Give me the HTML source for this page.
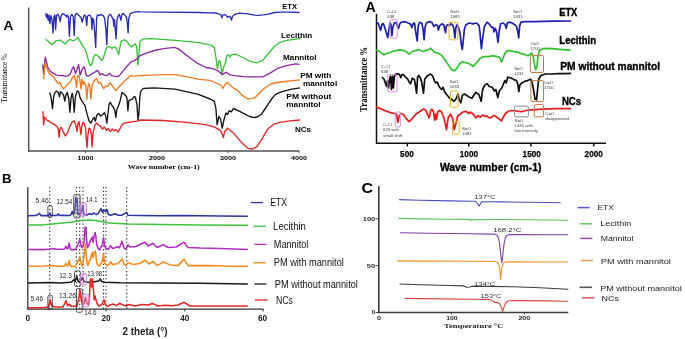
<!DOCTYPE html>
<html><head><meta charset="utf-8"><style>
html,body{margin:0;padding:0;background:#fff;}
body{width:685px;height:339px;overflow:hidden;font-family:"Liberation Sans",sans-serif;}
svg{display:block;filter:blur(0.35px);}
</style></head><body>
<svg width="685" height="339" viewBox="0 0 685 339">
<rect width="685" height="339" fill="#fff"/>
<line x1="28.7" y1="7.5" x2="28.7" y2="151.8" stroke="#5a5a5a" stroke-width="1.6"/>
<line x1="27.9" y1="151" x2="299.2" y2="151" stroke="#505050" stroke-width="1.6"/>
<polyline points="45.6,13.2 46.6,17.6 47.3,14.3 48.2,20.3 49.0,15.0 49.9,23.6 50.9,15.6 52.0,20.0 53.0,32.9 53.9,17.0 54.9,15.0 55.6,29.5 56.6,15.6 57.9,14.3 59.2,17.0 60.2,21.6 61.2,15.6 62.5,13.6 63.9,14.3 65.9,15.6 66.5,17.0 67.2,15.0 68.5,17.6 69.4,36.2 70.5,16.3 71.8,14.3 73.2,16.3 74.2,35.5 75.1,15.0 76.5,13.2 78.5,15.0 79.8,16.3 81.1,17.6 82.2,22.2 83.1,18.3 84.4,15.0 85.8,16.3 86.7,25.6 87.5,16.3 89.1,15.0 90.4,15.6 91.3,18.3 92.0,29.5 92.6,18.3 93.6,19.6 94.6,31.5 95.7,47.4 96.6,18.3 97.5,15.0 99.3,15.6 100.6,14.5 101.9,15.0 103.3,15.6 104.6,18.3 105.9,28.9 106.8,44.8 107.9,18.3 109.2,15.0 110.5,14.3 111.9,16.9 113.2,19.6 113.9,26.2 114.5,19.6 115.2,28.9 116.1,38.8 116.9,20.9 117.8,16.9 119.2,14.3 120.1,16.9 120.9,20.3 121.8,15.0 123.1,13.2 125.1,15.6 126.5,16.9 127.5,24.9 128.1,32.9 128.8,18.3 130.4,13.6 133.1,12.3 138.0,11.6 140.0,11.8 160.0,12.2 200.0,12.5 208.8,12.8 215.8,13.0 218.4,13.8 220.6,14.3 221.9,17.8 222.8,15.1 224.5,14.7 226.0,15.3 227.6,17.3 229.0,16.3 230.2,16.8 231.5,20.0 232.4,16.5 235.0,14.3 239.4,13.2 248.2,13.8 254.3,15.1 258.8,15.3 263.0,14.9 267.5,14.3 274.5,12.5 280.7,12.1 289.4,12.1 299.5,12.5" fill="none" stroke="#2a2cb0" stroke-width="1.35" stroke-linejoin="round" />
<polyline points="45.6,39.2 48.0,41.0 51.9,44.8 55.9,40.8 59.9,40.2 62.5,41.5 65.2,44.1 67.9,40.8 69.8,39.5 71.8,40.2 73.8,40.8 76.5,39.0 77.8,37.5 79.8,40.8 81.8,44.1 83.6,47.4 85.2,49.4 87.2,55.6 88.8,61.8 90.3,65.4 91.9,63.9 93.4,57.7 95.0,54.6 97.0,55.1 99.1,57.2 101.7,60.3 103.2,58.7 104.8,53.1 106.3,47.9 107.9,46.4 109.9,46.9 112.0,48.4 113.5,46.9 115.6,47.4 117.2,50.5 118.7,54.6 119.7,48.4 121.3,41.2 123.3,40.0 125.4,40.2 127.5,42.2 129.5,45.3 131.6,46.9 133.7,44.8 135.2,43.8 136.6,46.4 137.3,55.6 138.0,64.9 138.8,55.6 139.8,44.3 140.0,41.5 142.4,39.2 151.8,38.7 175.4,40.3 199.0,42.7 210.8,45.1 214.3,47.4 216.0,58.0 217.4,68.7 219.1,60.4 220.3,62.0 222.1,74.6 223.7,67.0 225.4,62.8 226.8,55.7 228.5,54.5 229.7,57.0 232.0,54.5 236.8,54.5 243.8,58.0 250.9,61.6 256.8,62.8 262.7,60.4 268.6,53.3 274.5,46.2 279.2,42.7 286.3,40.3 300.0,38.7" fill="none" stroke="#3cc03c" stroke-width="1.35" stroke-linejoin="round" />
<polyline points="42.7,64.5 43.7,74.1 45.2,57.2 46.6,62.3 48.1,68.2 50.3,71.2 53.3,73.4 56.2,74.9 59.2,75.6 62.1,75.3 65.1,76.3 68.0,75.6 70.2,74.1 72.2,69.0 73.6,66.7 75.4,73.4 76.9,69.7 78.6,64.5 80.1,74.9 82.0,69.7 84.0,66.7 85.0,69.1 86.3,75.6 88.2,76.2 90.2,74.9 92.1,73.6 94.7,72.3 97.3,70.4 98.6,71.7 99.9,74.9 101.9,73.6 103.8,74.9 105.8,75.6 107.7,74.9 109.7,73.2 111.6,75.6 114.2,76.2 117.5,76.6 119.4,75.6 122.0,72.3 124.6,69.1 127.9,65.2 131.1,61.9 134.4,60.6 138.8,57.2 140.0,55.7 147.0,52.8 154.2,50.5 163.6,48.6 174.2,47.4 178.0,48.6 187.2,55.7 196.6,62.8 206.1,67.5 213.2,68.7 218.0,71.0 222.6,74.6 226.1,72.2 229.6,74.6 234.4,75.7 246.2,76.9 262.7,76.9 269.8,73.4 276.9,68.7 286.3,65.6 295.8,63.9 299.5,64.3" fill="none" stroke="#8a2aa0" stroke-width="1.35" stroke-linejoin="round" />
<polyline points="42.7,77.8 43.7,78.5 45.2,63.1 46.6,66.8 48.1,71.2 49.6,73.4 51.8,75.6 54.0,77.8 56.2,80.8 58.4,83.7 59.9,82.2 61.4,85.9 63.6,88.9 65.8,86.6 68.0,83.7 70.2,82.2 72.4,77.8 74.2,75.6 75.7,81.5 76.6,87.4 77.6,76.3 79.1,75.6 80.1,81.5 81.0,88.9 82.0,79.3 83.1,84.4 84.2,81.5 85.7,85.9 86.9,99.2 87.9,86.0 88.9,83.4 89.9,87.3 90.8,99.0 92.0,86.0 94.1,80.8 96.7,78.2 98.6,83.4 100.1,82.1 101.9,85.3 103.8,88.6 105.8,86.0 107.7,86.6 109.7,82.7 111.6,84.7 113.6,87.9 115.9,90.5 118.1,87.9 120.7,85.3 124.0,81.4 127.2,78.8 130.5,75.6 134.4,76.2 139.5,75.6 140.0,75.7 163.6,74.6 175.4,74.6 187.2,76.9 199.0,79.3 210.1,80.3 215.0,82.5 220.6,85.0 222.9,88.5 224.5,85.5 226.1,82.8 227.6,82.7 230.5,85.5 234.4,88.7 238.1,90.8 241.5,94.6 247.5,99.0 251.0,98.6 254.5,97.9 258.0,94.5 261.5,90.8 265.5,87.5 270.8,84.0 277.0,82.5 284.8,81.5 300.0,79.9" fill="none" stroke="#ee7a22" stroke-width="1.35" stroke-linejoin="round" />
<polyline points="49.6,92.4 51.0,97.0 52.5,108.6 53.6,97.0 54.7,93.1 56.5,90.9 58.3,92.4 59.5,96.8 60.4,91.7 62.1,93.1 63.6,95.4 64.8,101.2 65.8,95.4 67.3,92.4 68.8,99.0 69.9,112.3 71.0,98.3 72.2,93.1 73.2,99.0 74.2,112.3 75.4,96.8 77.2,90.9 78.6,91.6 80.1,97.6 82.0,101.2 83.5,103.4 85.0,105.6 86.9,113.4 88.9,120.5 90.8,123.1 92.8,119.2 94.1,117.3 95.4,121.2 96.7,115.3 98.6,113.4 100.6,116.0 102.5,114.7 104.5,112.7 105.8,116.0 106.8,123.1 107.7,116.0 109.0,104.3 110.3,102.3 111.6,104.9 113.6,107.5 114.9,110.8 115.9,117.3 116.8,109.5 118.1,106.9 120.1,101.0 122.0,92.6 124.0,93.9 126.0,95.9 126.9,97.8 127.9,110.8 128.9,100.4 130.5,99.8 132.4,99.1 134.1,96.5 135.4,97.2 136.9,104.3 138.0,119.9 138.9,113.4 139.8,97.8 139.8,97.8 140.6,92.0 142.0,89.5 143.5,88.5 154.0,87.8 175.0,89.2 198.4,94.4 210.1,99.0 214.3,101.4 215.9,108.4 217.1,124.7 219.0,116.5 220.6,119.0 222.2,128.2 224.0,119.5 226.0,113.0 227.6,114.5 229.2,110.7 231.4,111.8 233.4,108.4 238.1,110.7 245.1,114.2 249.5,116.5 254.5,117.7 258.0,116.5 261.5,114.2 265.0,109.0 268.5,103.7 272.0,98.5 275.5,94.4 280.0,92.3 284.8,90.8 292.0,89.2 300.0,87.8" fill="none" stroke="#141414" stroke-width="1.35" stroke-linejoin="round" />
<polyline points="42.9,111.2 43.6,124.9 44.5,117.1 45.8,118.7 47.1,120.3 49.0,121.0 51.0,122.9 52.9,123.6 54.9,124.9 56.9,126.2 58.2,128.8 59.2,137.2 60.1,128.1 61.4,127.5 63.4,132.0 65.3,135.9 67.3,133.3 69.9,126.2 72.5,121.6 74.4,121.0 75.7,124.9 77.0,131.4 77.9,123.6 79.0,121.6 80.0,127.5 80.9,134.6 81.9,126.2 82.9,122.3 84.2,123.6 85.5,127.5 87.0,147.6 88.1,133.5 89.1,128.1 90.1,128.8 91.3,133.5 92.0,147.0 93.0,133.5 94.5,126.2 95.5,124.4 96.7,123.1 98.6,125.0 100.6,126.4 102.5,129.0 104.5,127.1 106.4,130.3 108.4,128.4 110.3,131.6 112.2,129.0 114.2,130.9 116.1,129.6 118.1,132.2 120.1,128.4 122.0,125.1 124.0,123.1 127.9,122.5 131.8,121.8 137.0,121.2 140.0,120.0 163.4,120.5 186.7,122.4 205.4,124.7 214.7,127.1 220.6,130.6 223.4,137.6 224.6,131.7 227.6,128.2 233.4,132.9 240.4,141.1 244.0,144.8 247.5,148.1 252.1,149.2 256.8,146.9 261.5,139.9 265.0,133.5 268.5,128.2 274.0,124.2 280.2,122.4 290.0,120.8 300.0,120.0" fill="none" stroke="#e02424" stroke-width="1.35" stroke-linejoin="round" />
<text x="3.6" y="29.8" font-family="Liberation Sans, sans-serif" font-size="13.6" font-weight="bold" fill="#000" text-anchor="start" >A</text>
<line x1="85.5" y1="151" x2="85.5" y2="153" stroke="#505050" stroke-width="1"/>
<text x="77.5" y="160.2" font-family="Liberation Sans, sans-serif" font-size="6.2" font-weight="bold" fill="#000" text-anchor="start" textLength="16" lengthAdjust="spacingAndGlyphs" >1000</text>
<line x1="157" y1="151" x2="157" y2="153" stroke="#505050" stroke-width="1"/>
<text x="149" y="160.2" font-family="Liberation Sans, sans-serif" font-size="6.2" font-weight="bold" fill="#000" text-anchor="start" textLength="16" lengthAdjust="spacingAndGlyphs" >2000</text>
<line x1="228" y1="151" x2="228" y2="153" stroke="#505050" stroke-width="1"/>
<text x="220" y="160.2" font-family="Liberation Sans, sans-serif" font-size="6.2" font-weight="bold" fill="#000" text-anchor="start" textLength="16" lengthAdjust="spacingAndGlyphs" >3000</text>
<line x1="299" y1="151" x2="299" y2="153" stroke="#505050" stroke-width="1"/>
<text x="291" y="160.2" font-family="Liberation Sans, sans-serif" font-size="6.2" font-weight="bold" fill="#000" text-anchor="start" textLength="16" lengthAdjust="spacingAndGlyphs" >4000</text>
<text x="127.8" y="168.8" font-family="Liberation Serif, serif" font-size="6.6" font-weight="bold" fill="#000" text-anchor="start" textLength="72" lengthAdjust="spacingAndGlyphs" >Wave number (cm-1)</text>
<text x="0" y="0" font-family="Liberation Serif, serif" font-size="8.4" font-weight="normal" fill="#000" text-anchor="middle" textLength="48.5" lengthAdjust="spacingAndGlyphs" transform="translate(7.3,78.2) rotate(-90)">Transmittance %</text>
<text x="282.3" y="8.5" font-family="Liberation Sans, sans-serif" font-size="7.6" font-weight="bold" fill="#000" text-anchor="start" textLength="14.8" lengthAdjust="spacingAndGlyphs" >ETX</text>
<text x="281" y="38" font-family="Liberation Sans, sans-serif" font-size="7.6" font-weight="bold" fill="#000" text-anchor="start" textLength="31.2" lengthAdjust="spacingAndGlyphs" >Lecithin</text>
<text x="283.1" y="60" font-family="Liberation Sans, sans-serif" font-size="7.6" font-weight="bold" fill="#000" text-anchor="start" textLength="33.4" lengthAdjust="spacingAndGlyphs" >Mannitol</text>
<text x="300.2" y="78.2" font-family="Liberation Sans, sans-serif" font-size="7.6" font-weight="bold" fill="#000" text-anchor="start" textLength="31.2" lengthAdjust="spacingAndGlyphs" >PM with</text>
<text x="302.9" y="86" font-family="Liberation Sans, sans-serif" font-size="7.6" font-weight="bold" fill="#000" text-anchor="start" textLength="34.3" lengthAdjust="spacingAndGlyphs" >mannitol</text>
<text x="286.3" y="99.3" font-family="Liberation Sans, sans-serif" font-size="7.6" font-weight="bold" fill="#000" text-anchor="start" textLength="45.1" lengthAdjust="spacingAndGlyphs" >PM without</text>
<text x="286.3" y="106.7" font-family="Liberation Sans, sans-serif" font-size="7.6" font-weight="bold" fill="#000" text-anchor="start" textLength="34.3" lengthAdjust="spacingAndGlyphs" >mannitol</text>
<text x="295" y="131.5" font-family="Liberation Sans, sans-serif" font-size="7.6" font-weight="bold" fill="#000" text-anchor="start" textLength="16.1" lengthAdjust="spacingAndGlyphs" >NCs</text>
<line x1="376.5" y1="13.8" x2="376.5" y2="143.5" stroke="#111" stroke-width="1.5"/>
<line x1="376" y1="143.2" x2="606" y2="143.2" stroke="#111" stroke-width="1.5"/>
<line x1="407.3" y1="143.2" x2="407.3" y2="146.5" stroke="#111" stroke-width="1.5"/>
<line x1="468.8" y1="143.2" x2="468.8" y2="146.5" stroke="#111" stroke-width="1.5"/>
<line x1="531" y1="143.2" x2="531" y2="146.5" stroke="#111" stroke-width="1.5"/>
<line x1="593.7" y1="143.2" x2="593.7" y2="146.5" stroke="#111" stroke-width="1.5"/>
<polyline points="376.7,23.6 378.0,23.0 379.3,26.3 380.6,30.3 382.0,24.3 383.3,23.6 384.6,27.0 386.0,31.6 387.7,37.6 388.6,32.0 390.0,23.0 390.9,24.3 391.9,35.6 392.9,27.0 394.3,23.0 395.9,22.3 397.2,25.6 398.6,28.3 399.6,24.3 401.2,22.3 403.9,21.6 406.5,22.3 409.2,23.6 410.8,24.3 411.8,27.6 413.2,23.6 414.5,23.0 415.8,32.3 417.2,40.9 418.2,25.6 419.8,22.3 421.8,23.0 423.1,29.6 424.1,39.6 425.1,27.0 426.4,23.0 429.1,21.6 431.8,22.3 434.0,26.5 435.8,24.7 437.5,25.6 438.4,30.0 439.7,25.6 442.0,23.8 443.7,24.7 444.6,28.3 445.5,32.7 446.4,25.6 447.8,24.7 449.6,25.6 450.8,23.8 452.6,24.7 453.8,28.3 454.9,38.0 455.9,27.4 457.0,24.7 458.8,28.3 460.2,34.5 461.4,45.1 462.3,49.5 463.2,41.5 464.4,29.2 465.9,24.7 469.4,23.0 472.9,23.8 476.5,23.0 479.1,25.6 480.0,32.7 481.4,48.6 482.7,38.0 484.4,26.5 487.1,22.1 489.8,24.7 491.5,27.4 493.2,27.4 493.9,31.8 495.3,28.3 496.7,32.7 498.0,42.4 499.2,31.0 500.6,23.8 503.3,23.0 505.0,24.7 506.3,28.3 507.3,23.0 509.5,22.1 512.1,23.0 514.8,24.7 516.5,26.5 518.0,32.7 518.7,38.0 519.7,25.6 521.0,22.1 525.4,21.7 534.2,21.7 543.1,21.4 555.0,21.2 571.2,21.0" fill="none" stroke="#1c20ac" stroke-width="1.7" stroke-linejoin="round" />
<polyline points="376.0,50.2 378.7,50.8 381.3,52.8 384.0,54.8 386.6,53.5 390.6,52.2 394.6,50.8 399.9,49.8 403.9,50.6 406.5,51.9 409.2,54.2 411.2,52.4 413.2,51.1 415.8,50.6 418.5,49.5 421.1,50.8 423.8,51.5 426.4,50.2 429.1,49.5 430.7,48.2 432.4,50.2 434.4,52.2 437.5,53.0 441.1,54.8 444.6,59.2 448.2,64.6 451.7,69.9 454.4,70.8 457.0,68.1 459.7,63.7 462.3,61.9 465.9,62.8 469.4,63.7 472.9,66.3 476.5,62.8 480.0,58.4 483.6,56.6 488.9,56.6 492.4,55.7 497.1,56.6 499.7,57.5 501.5,61.9 502.7,59.2 505.0,53.1 507.7,50.4 513.0,51.3 518.3,52.2 521.9,53.9 525.4,54.8 528.1,55.7 531.6,53.1 533.4,57.5 534.6,64.6 535.7,69.9 536.9,66.3 538.1,55.7 539.6,50.4 543.1,48.6 550.0,48.3 560.0,49.3 570.8,50.3" fill="none" stroke="#30c030" stroke-width="1.7" stroke-linejoin="round" />
<polyline points="381.9,77.0 384.0,79.0 385.6,83.6 386.6,86.5 387.5,80.6 388.5,88.0 389.6,79.2 390.5,76.2 391.5,89.5 392.5,76.2 393.4,88.0 394.4,76.2 395.9,74.0 398.1,73.6 399.6,74.7 400.8,77.7 401.8,74.7 403.3,74.7 405.5,77.0 407.7,79.2 409.2,82.1 410.7,83.6 412.1,78.4 414.3,79.2 415.5,85.8 416.6,93.2 417.6,77.0 418.8,75.5 420.2,77.7 421.7,82.1 423.5,93.2 424.7,79.2 426.9,76.2 429.1,74.7 430.6,74.0 432.8,76.2 434.3,80.6 435.7,82.9 437.2,82.1 438.7,85.8 440.2,88.0 441.6,89.5 443.1,87.3 444.6,91.7 446.8,94.7 449.7,98.3 452.0,99.8 454.2,101.3 456.4,98.3 457.9,94.0 459.3,99.8 460.8,102.8 462.3,95.4 464.5,94.0 466.7,95.4 468.9,96.9 471.9,98.3 474.1,94.7 476.0,92.4 479.0,94.7 481.2,101.3 482.6,89.5 484.8,85.1 487.1,83.6 489.3,86.5 492.2,87.3 494.4,91.0 495.9,89.5 497.8,97.6 499.3,91.0 501.8,88.0 504.8,80.6 506.2,82.9 507.7,77.0 509.9,77.7 512.1,78.4 514.3,79.9 516.6,80.6 518.0,85.1 518.8,91.7 519.8,85.1 521.7,82.9 524.7,81.4 527.6,80.6 530.6,79.2 532.0,82.1 533.5,89.5 535.0,99.1 536.5,99.8 537.6,89.5 538.7,79.2 540.9,75.5 545.3,74.0 552.7,74.0 558.6,73.6 564.5,73.6 571.1,73.3" fill="none" stroke="#0e0e0e" stroke-width="1.7" stroke-linejoin="round" />
<polyline points="376.0,106.8 378.9,108.1 381.9,109.1 384.8,110.5 387.8,111.6 390.7,112.7 394.4,113.5 396.6,114.2 397.8,122.3 399.3,115.7 401.1,113.5 403.3,114.2 406.2,118.6 409.2,121.6 412.1,118.6 415.8,114.2 420.2,111.3 423.2,109.1 425.4,109.8 427.6,114.2 429.1,117.9 430.6,111.3 432.0,109.1 433.5,112.0 434.7,120.1 435.7,114.2 436.5,119.4 437.7,112.0 439.4,110.5 441.6,112.0 443.1,115.7 444.6,120.1 446.5,129.7 448.3,117.2 450.5,114.2 452.7,118.6 454.2,129.7 456.4,121.6 457.9,115.7 460.1,114.2 463.0,112.0 466.0,111.3 468.9,113.5 470.4,112.0 473.3,114.2 476.0,117.9 478.2,115.7 480.4,117.2 482.6,115.0 484.8,116.4 486.3,115.7 488.5,117.2 490.7,117.9 492.2,116.4 494.4,115.4 496.6,117.2 498.8,118.6 501.4,120.9 503.3,117.2 505.5,113.5 508.4,111.3 511.4,110.5 515.8,111.0 520.2,111.6 523.2,111.3 526.1,110.5 532.0,109.8 542.4,109.1 557.0,108.6 571.1,108.6" fill="none" stroke="#e41c1c" stroke-width="1.7" stroke-linejoin="round" />
<rect x="390" y="19.6" width="7.199999999999989" height="18.6" rx="1.2" fill="none" stroke="#dc8ee0" stroke-width="1.0"/>
<rect x="449" y="22.1" width="8.899999999999977" height="17.699999999999996" rx="1.2" fill="none" stroke="#f2b428" stroke-width="1.0"/>
<rect x="387.8" y="74.7" width="9.199999999999989" height="17.0" rx="1.2" fill="none" stroke="#dc8ee0" stroke-width="1.0"/>
<rect x="450.5" y="91" width="7.399999999999977" height="16.200000000000003" rx="1.2" fill="none" stroke="#f2b428" stroke-width="1.0"/>
<rect x="395.2" y="112" width="5.100000000000023" height="14.799999999999997" rx="1.2" fill="none" stroke="#dc8ee0" stroke-width="1.0"/>
<rect x="452.4" y="121.6" width="6.900000000000034" height="12.5" rx="1.2" fill="none" stroke="#f2b428" stroke-width="1.0"/>
<rect x="530.4" y="55.4" width="13.100000000000023" height="17.1" rx="1.2" fill="none" stroke="#c07840" stroke-width="1.0"/>
<rect x="530.9" y="80.6" width="12.700000000000045" height="21.0" rx="1.2" fill="none" stroke="#c07840" stroke-width="1.0"/>
<rect x="534.3" y="104.6" width="9.300000000000068" height="12.300000000000011" rx="1.2" fill="none" stroke="#c07840" stroke-width="1.0"/>
<rect x="514.6" y="106.1" width="13.799999999999955" height="10.800000000000011" rx="1.2" fill="none" stroke="#8a8a8a" stroke-width="1.0"/>
<text x="387.3" y="13.0" font-family="Liberation Sans, sans-serif" font-size="4.3" font-weight="normal" fill="#3a3a3a" text-anchor="start" >C-Cl</text>
<text x="387.3" y="18.2" font-family="Liberation Sans, sans-serif" font-size="4.3" font-weight="normal" fill="#3a3a3a" text-anchor="start" >638</text>
<text x="450.3" y="13.2" font-family="Liberation Sans, sans-serif" font-size="4.3" font-weight="normal" fill="#3a3a3a" text-anchor="start" >S=O</text>
<text x="450.3" y="18.4" font-family="Liberation Sans, sans-serif" font-size="4.3" font-weight="normal" fill="#3a3a3a" text-anchor="start" >1085</text>
<text x="513" y="12.6" font-family="Liberation Sans, sans-serif" font-size="4.3" font-weight="normal" fill="#3a3a3a" text-anchor="start" >S=O</text>
<text x="513" y="17.8" font-family="Liberation Sans, sans-serif" font-size="4.3" font-weight="normal" fill="#3a3a3a" text-anchor="start" >1431</text>
<text x="530.4" y="44.6" font-family="Liberation Sans, sans-serif" font-size="4.3" font-weight="normal" fill="#3a3a3a" text-anchor="start" >C=O</text>
<text x="530.4" y="49.800000000000004" font-family="Liberation Sans, sans-serif" font-size="4.3" font-weight="normal" fill="#3a3a3a" text-anchor="start" >1700</text>
<text x="381" y="68.2" font-family="Liberation Sans, sans-serif" font-size="4.3" font-weight="normal" fill="#3a3a3a" text-anchor="start" >C-Cl</text>
<text x="381" y="73.4" font-family="Liberation Sans, sans-serif" font-size="4.3" font-weight="normal" fill="#3a3a3a" text-anchor="start" >638</text>
<text x="449.7" y="83.0" font-family="Liberation Sans, sans-serif" font-size="4.3" font-weight="normal" fill="#3a3a3a" text-anchor="start" >S=O</text>
<text x="449.7" y="88.2" font-family="Liberation Sans, sans-serif" font-size="4.3" font-weight="normal" fill="#3a3a3a" text-anchor="start" >1063</text>
<text x="514.2" y="70.1" font-family="Liberation Sans, sans-serif" font-size="4.3" font-weight="normal" fill="#3a3a3a" text-anchor="start" >S=O</text>
<text x="514.2" y="75.3" font-family="Liberation Sans, sans-serif" font-size="4.3" font-weight="normal" fill="#3a3a3a" text-anchor="start" >1431</text>
<text x="544.2" y="83.6" font-family="Liberation Sans, sans-serif" font-size="4.3" font-weight="normal" fill="#3a3a3a" text-anchor="start" >C=O</text>
<text x="544.2" y="89.39999999999999" font-family="Liberation Sans, sans-serif" font-size="4.3" font-weight="normal" fill="#3a3a3a" text-anchor="start" >1700</text>
<text x="383" y="126.2" font-family="Liberation Sans, sans-serif" font-size="4.3" font-weight="normal" fill="#3a3a3a" text-anchor="start" >C-Cl</text>
<text x="383" y="131.4" font-family="Liberation Sans, sans-serif" font-size="4.3" font-weight="normal" fill="#3a3a3a" text-anchor="start" >625 with</text>
<text x="383" y="136.6" font-family="Liberation Sans, sans-serif" font-size="4.3" font-weight="normal" fill="#3a3a3a" text-anchor="start" >small shift</text>
<text x="462" y="129.8" font-family="Liberation Sans, sans-serif" font-size="4.3" font-weight="normal" fill="#3a3a3a" text-anchor="start" >S=O</text>
<text x="462" y="135.0" font-family="Liberation Sans, sans-serif" font-size="4.3" font-weight="normal" fill="#3a3a3a" text-anchor="start" >1081</text>
<text x="514.6" y="121.8" font-family="Liberation Sans, sans-serif" font-size="4.3" font-weight="normal" fill="#3a3a3a" text-anchor="start" >S=O</text>
<text x="514.6" y="127.0" font-family="Liberation Sans, sans-serif" font-size="4.3" font-weight="normal" fill="#3a3a3a" text-anchor="start" >1435 with</text>
<text x="514.6" y="132.2" font-family="Liberation Sans, sans-serif" font-size="4.3" font-weight="normal" fill="#3a3a3a" text-anchor="start" >low intensity</text>
<text x="545.3" y="115.2" font-family="Liberation Sans, sans-serif" font-size="4.3" font-weight="normal" fill="#3a3a3a" text-anchor="start" >C=O</text>
<text x="545.3" y="120.4" font-family="Liberation Sans, sans-serif" font-size="4.3" font-weight="normal" fill="#3a3a3a" text-anchor="start" >disappeared</text>
<text x="365.4" y="12.3" font-family="Liberation Sans, sans-serif" font-size="14.2" font-weight="bold" fill="#000" text-anchor="start" >A</text>
<text x="406.9" y="156.8" font-family="Liberation Sans, sans-serif" font-size="9.6" font-weight="bold" fill="#000" text-anchor="middle" textLength="13.6" lengthAdjust="spacingAndGlyphs" stroke="#000" stroke-width="0.25">500</text>
<text x="468.9" y="156.8" font-family="Liberation Sans, sans-serif" font-size="9.6" font-weight="bold" fill="#000" text-anchor="middle" textLength="18.2" lengthAdjust="spacingAndGlyphs" stroke="#000" stroke-width="0.25">1000</text>
<text x="531.7" y="156.8" font-family="Liberation Sans, sans-serif" font-size="9.6" font-weight="bold" fill="#000" text-anchor="middle" textLength="18.2" lengthAdjust="spacingAndGlyphs" stroke="#000" stroke-width="0.25">1500</text>
<text x="593.7" y="156.8" font-family="Liberation Sans, sans-serif" font-size="9.6" font-weight="bold" fill="#000" text-anchor="middle" textLength="18.2" lengthAdjust="spacingAndGlyphs" stroke="#000" stroke-width="0.25">2000</text>
<text x="439.9" y="171" font-family="Liberation Sans, sans-serif" font-size="10.2" font-weight="bold" fill="#000" text-anchor="start" textLength="101.5" lengthAdjust="spacingAndGlyphs" stroke="#000" stroke-width="0.35">Wave number (cm-1)</text>
<text x="0" y="0" font-family="Liberation Serif, serif" font-size="10" font-weight="bold" fill="#000" text-anchor="middle" textLength="65" lengthAdjust="spacingAndGlyphs" transform="translate(367.3,79.4) rotate(-90)">Transmittance %</text>
<text x="559.3" y="16" font-family="Liberation Sans, sans-serif" font-size="10" font-weight="bold" fill="#000" text-anchor="start" textLength="18" lengthAdjust="spacingAndGlyphs" stroke="#000" stroke-width="0.35">ETX</text>
<text x="559.3" y="43.6" font-family="Liberation Sans, sans-serif" font-size="10" font-weight="bold" fill="#000" text-anchor="start" textLength="36.8" lengthAdjust="spacingAndGlyphs" stroke="#000" stroke-width="0.35">Lecithin</text>
<text x="560.3" y="70.3" font-family="Liberation Sans, sans-serif" font-size="10" font-weight="bold" fill="#000" text-anchor="start" textLength="99.8" lengthAdjust="spacingAndGlyphs" stroke="#000" stroke-width="0.35">PM without mannitol</text>
<text x="561.9" y="104.6" font-family="Liberation Sans, sans-serif" font-size="10" font-weight="bold" fill="#000" text-anchor="start" textLength="19.3" lengthAdjust="spacingAndGlyphs" stroke="#000" stroke-width="0.35">NCs</text>
<line x1="49.7" y1="187.0" x2="49.7" y2="309" stroke="#2a2a2a" stroke-width="1.1" stroke-dasharray="1.3,2.35"/>
<line x1="76.4" y1="187.0" x2="76.4" y2="309" stroke="#2a2a2a" stroke-width="1.1" stroke-dasharray="1.3,2.35"/>
<line x1="79.7" y1="187.0" x2="79.7" y2="309" stroke="#2a2a2a" stroke-width="1.1" stroke-dasharray="1.3,2.35"/>
<line x1="83.0" y1="187.0" x2="83.0" y2="309" stroke="#2a2a2a" stroke-width="1.1" stroke-dasharray="1.3,2.35"/>
<line x1="103.5" y1="187.0" x2="103.5" y2="309" stroke="#2a2a2a" stroke-width="1.1" stroke-dasharray="1.3,2.35"/>
<line x1="105.9" y1="187.0" x2="105.9" y2="309" stroke="#2a2a2a" stroke-width="1.1" stroke-dasharray="1.3,2.35"/>
<line x1="126.7" y1="187.0" x2="126.7" y2="309" stroke="#2a2a2a" stroke-width="1.1" stroke-dasharray="1.3,2.35"/>
<line x1="27.8" y1="187.2" x2="27.8" y2="309.5" stroke="#333" stroke-width="1.3"/>
<line x1="27.2" y1="309.2" x2="263.5" y2="309.2" stroke="#333" stroke-width="1.3"/>
<line x1="106.1" y1="309.2" x2="106.1" y2="311.5" stroke="#333" stroke-width="1"/>
<line x1="184.7" y1="309.2" x2="184.7" y2="311.5" stroke="#333" stroke-width="1"/>
<line x1="263.2" y1="309.2" x2="263.2" y2="311.5" stroke="#333" stroke-width="1"/>
<polyline points="28.0,215.7 36.0,215.6 38.0,214.5 39.5,213.3 41.0,215.6 48.5,215.6 49.8,213.0 51.0,215.6 57.0,215.5 58.2,213.8 59.5,215.5 61.0,215.3 70.0,215.5 71.5,213.5 72.2,211.5 73.0,214.0 74.5,213.0 75.9,197.5 77.0,198.3 77.9,214.5 79.5,214.5 81.0,213.0 82.9,205.6 83.8,214.5 86.5,215.2 89.2,213.8 91.4,214.5 94.0,213.0 96.0,214.5 98.0,213.8 101.0,208.6 102.5,212.3 104.0,210.0 105.5,211.5 106.9,209.3 108.4,214.5 110.6,215.2 115.0,213.8 118.0,215.2 122.0,215.2 126.5,212.3 128.0,215.3 140.0,215.5 160.0,215.7 180.0,215.6 200.0,215.8 220.0,215.9 247.8,216.2" fill="none" stroke="#2a32a6" stroke-width="1.55" stroke-linejoin="round" />
<polyline points="28.0,225.1 42.0,224.9 57.5,223.6 72.2,221.9 81.1,220.4 90.0,220.0 98.8,221.1 109.1,223.0 128.0,224.1 160.0,224.6 200.0,224.9 247.8,225.3" fill="none" stroke="#3ec43e" stroke-width="1.55" stroke-linejoin="round" />
<polyline points="28.0,249.5 45.0,249.6 49.8,249.0 53.1,248.5 56.0,249.3 63.4,249.3 64.8,248.5 65.9,246.3 67.0,248.8 68.0,248.5 69.1,243.1 70.3,248.8 72.0,250.0 75.5,249.4 77.3,245.9 78.6,243.2 79.8,239.3 80.8,244.1 81.7,247.7 83.0,246.5 84.4,239.7 85.1,227.3 86.0,227.3 86.6,239.7 87.5,247.7 88.7,245.8 89.7,242.4 91.0,239.7 92.2,237.0 93.1,242.4 94.1,236.2 95.2,232.6 95.9,237.0 96.8,245.0 98.1,248.5 99.4,250.0 100.3,248.5 102.5,244.1 103.5,237.5 104.7,246.3 106.2,248.5 108.4,249.3 110.6,245.6 112.8,248.5 115.0,247.8 117.2,246.8 119.4,247.8 122.1,241.2 123.9,247.8 126.0,249.3 128.0,244.9 130.0,247.0 136.0,246.5 142.0,243.5 145.2,242.2 148.0,246.0 153.1,243.3 157.0,247.5 163.2,244.7 168.0,247.5 176.0,247.0 184.1,242.2 188.0,247.6 200.0,248.1 220.0,248.4 247.8,249.4" fill="none" stroke="#b22cc0" stroke-width="1.55" stroke-linejoin="round" />
<polyline points="28.0,266.2 45.0,266.0 53.1,265.5 56.0,266.2 63.4,266.2 64.8,265.5 65.9,263.5 67.0,266.0 68.0,265.5 69.2,260.6 70.4,266.0 72.0,266.5 75.5,266.1 77.3,263.0 78.6,259.9 79.8,257.3 80.8,261.2 81.7,265.7 83.0,265.0 84.4,253.3 85.3,244.0 86.2,253.3 87.0,263.0 87.9,265.2 89.3,261.2 90.6,258.6 91.5,255.0 92.4,252.4 93.1,257.7 93.9,253.3 95.0,251.1 95.7,253.3 96.3,259.5 97.2,263.9 98.5,265.7 99.6,265.8 100.3,264.8 102.5,260.4 103.5,253.7 104.7,263.3 106.9,265.5 108.8,264.8 110.6,261.8 112.8,264.8 115.0,264.1 118.0,263.7 122.1,258.9 123.9,264.1 126.0,265.5 128.0,262.6 133.0,264.5 140.0,263.5 145.2,260.2 149.0,264.0 153.1,261.3 157.0,265.6 163.2,262.0 170.0,264.9 178.0,265.6 184.1,259.1 188.0,265.6 210.0,265.6 230.0,266.2 247.8,266.3" fill="none" stroke="#f08a1c" stroke-width="1.55" stroke-linejoin="round" />
<polyline points="28.0,283.0 40.0,282.8 50.0,282.5 60.0,283.0 70.0,282.2 72.2,281.5 73.7,279.7 75.2,281.5 76.7,276.1 78.1,281.2 80.0,282.0 82.6,277.5 83.8,281.2 87.0,282.3 93.0,282.0 98.5,281.0 100.3,279.0 101.7,281.5 105.0,282.3 120.0,282.8 160.0,283.0 200.0,283.3 247.8,284.0" fill="none" stroke="#181818" stroke-width="1.55" stroke-linejoin="round" />
<polyline points="28.0,307.8 42.7,307.8 48.6,307.0 50.1,299.7 51.6,305.6 54.5,307.0 63.0,307.0 66.1,300.7 67.5,305.6 69.3,304.1 70.8,306.3 76.7,306.3 78.9,298.2 79.9,290.1 81.1,298.9 82.6,304.8 84.0,303.3 85.5,297.4 87.0,303.3 88.5,304.8 89.4,298.3 90.2,281.0 90.6,279.0 91.6,279.5 92.4,279.0 92.9,284.0 93.6,292.0 94.2,299.5 95.1,296.0 96.1,300.5 97.5,304.3 98.8,306.0 101.7,304.8 104.0,299.7 105.4,304.8 107.6,306.3 110.6,304.8 113.5,304.1 116.5,305.6 119.4,303.3 122.4,304.8 126.0,306.0 129.0,304.5 135.0,306.0 142.0,304.5 148.0,305.0 152.4,303.4 158.0,306.0 165.0,305.2 172.0,305.8 178.0,305.0 184.1,302.3 190.0,306.0 210.0,306.0 230.0,306.0 247.8,306.0" fill="none" stroke="#e22626" stroke-width="1.55" stroke-linejoin="round" />
<polygon points="90.3,280 92.9,279.5 92.9,287.5 90.3,287.5" fill="#e22626"/>
<rect x="47.9" y="205.6" width="4.399999999999999" height="11.800000000000011" rx="1.5" fill="none" stroke="#222" stroke-width="0.8"/>
<rect x="73.6" y="194.4" width="6.6000000000000085" height="23.599999999999994" rx="1.8" fill="rgba(150,150,150,0.35)" stroke="#444" stroke-width="0.8"/>
<rect x="80.8" y="203" width="5.799999999999997" height="12.900000000000006" rx="1.5" fill="rgba(230,170,235,0.35)" stroke="#d27ad8" stroke-width="0.9"/>
<rect x="74.5" y="270.9" width="5.900000000000006" height="15.5" rx="1.5" fill="none" stroke="#333" stroke-width="0.8"/>
<rect x="80.6" y="273.6" width="6.0" height="11.299999999999955" rx="1.5" fill="rgba(230,170,235,0.35)" stroke="#d27ad8" stroke-width="0.9"/>
<rect x="47.9" y="295.2" width="4.399999999999999" height="14.0" rx="1.5" fill="none" stroke="#222" stroke-width="0.8"/>
<rect x="76.4" y="288.5" width="5.799999999999997" height="23.80000000000001" rx="1.5" fill="none" stroke="#333" stroke-width="0.8"/>
<rect x="82.8" y="294.3" width="6.299999999999997" height="12.399999999999977" rx="1.5" fill="rgba(230,170,235,0.35)" stroke="#d27ad8" stroke-width="0.9"/>
<text x="35.6" y="203.2" font-family="Liberation Sans, sans-serif" font-size="7" font-weight="normal" fill="#2a2a2a" text-anchor="start" textLength="13.2" lengthAdjust="spacingAndGlyphs" >5.46</text>
<text x="56.6" y="203.8" font-family="Liberation Sans, sans-serif" font-size="7" font-weight="normal" fill="#2a2a2a" text-anchor="start" textLength="15.6" lengthAdjust="spacingAndGlyphs" >12.54</text>
<text x="86" y="201.7" font-family="Liberation Sans, sans-serif" font-size="7" font-weight="normal" fill="#2a2a2a" text-anchor="start" textLength="11.5" lengthAdjust="spacingAndGlyphs" >14.1</text>
<text x="59.2" y="278.1" font-family="Liberation Sans, sans-serif" font-size="7" font-weight="normal" fill="#2a2a2a" text-anchor="start" textLength="12.6" lengthAdjust="spacingAndGlyphs" >12.3</text>
<text x="87.2" y="275.9" font-family="Liberation Sans, sans-serif" font-size="7" font-weight="normal" fill="#2a2a2a" text-anchor="start" textLength="15" lengthAdjust="spacingAndGlyphs" >13.98</text>
<text x="30.4" y="300.8" font-family="Liberation Sans, sans-serif" font-size="7" font-weight="normal" fill="#2a2a2a" text-anchor="start" textLength="12.6" lengthAdjust="spacingAndGlyphs" >5.46</text>
<text x="59" y="298.3" font-family="Liberation Sans, sans-serif" font-size="7" font-weight="normal" fill="#2a2a2a" text-anchor="start" textLength="17.2" lengthAdjust="spacingAndGlyphs" >13.26</text>
<text x="84.3" y="315" font-family="Liberation Sans, sans-serif" font-size="7" font-weight="normal" fill="#2a2a2a" text-anchor="start" textLength="12.2" lengthAdjust="spacingAndGlyphs" >14.6</text>
<text x="2.0" y="182.8" font-family="Liberation Sans, sans-serif" font-size="13.2" font-weight="bold" fill="#000" text-anchor="start" >B</text>
<text x="27.9" y="321.4" font-family="Liberation Sans, sans-serif" font-size="8.3" font-weight="bold" fill="#222" text-anchor="middle" >0</text>
<text x="106" y="321.4" font-family="Liberation Sans, sans-serif" font-size="8.3" font-weight="bold" fill="#222" text-anchor="middle" >20</text>
<text x="184.8" y="321.4" font-family="Liberation Sans, sans-serif" font-size="8.3" font-weight="bold" fill="#222" text-anchor="middle" >40</text>
<text x="262.5" y="321.4" font-family="Liberation Sans, sans-serif" font-size="8.3" font-weight="bold" fill="#222" text-anchor="middle" >60</text>
<text x="122.6" y="335" font-family="Liberation Sans, sans-serif" font-size="10" font-weight="bold" fill="#222" text-anchor="start" textLength="45" lengthAdjust="spacingAndGlyphs" >2 theta (°)</text>
<line x1="250.8" y1="202.6" x2="262.9" y2="202.6" stroke="#2a32a6" stroke-width="1.3"/>
<line x1="253.3" y1="226.3" x2="265.7" y2="226.3" stroke="#3ec43e" stroke-width="1.3"/>
<line x1="254.4" y1="244.4" x2="266.4" y2="244.4" stroke="#b22cc0" stroke-width="1.3"/>
<line x1="253.3" y1="262.8" x2="265.7" y2="262.8" stroke="#f08a1c" stroke-width="1.3"/>
<line x1="254.4" y1="284" x2="266.4" y2="284" stroke="#181818" stroke-width="1.3"/>
<line x1="255" y1="300" x2="267.5" y2="300" stroke="#e22626" stroke-width="1.3"/>
<text x="270.3" y="206" font-family="Liberation Sans, sans-serif" font-size="10" font-weight="normal" fill="#111" text-anchor="start" textLength="16.8" lengthAdjust="spacingAndGlyphs" >ETX</text>
<text x="273.1" y="230" font-family="Liberation Sans, sans-serif" font-size="10" font-weight="normal" fill="#111" text-anchor="start" textLength="32.8" lengthAdjust="spacingAndGlyphs" >Lecithin</text>
<text x="273.8" y="247.7" font-family="Liberation Sans, sans-serif" font-size="10" font-weight="normal" fill="#111" text-anchor="start" textLength="34.6" lengthAdjust="spacingAndGlyphs" >Mannitol</text>
<text x="273.8" y="266.1" font-family="Liberation Sans, sans-serif" font-size="10" font-weight="normal" fill="#111" text-anchor="start" textLength="70" lengthAdjust="spacingAndGlyphs" >PM with mannitol</text>
<text x="274.8" y="288.1" font-family="Liberation Sans, sans-serif" font-size="10" font-weight="normal" fill="#111" text-anchor="start" textLength="83.1" lengthAdjust="spacingAndGlyphs" >PM without mannitol</text>
<text x="275.9" y="304.4" font-family="Liberation Sans, sans-serif" font-size="10" font-weight="normal" fill="#111" text-anchor="start" textLength="17" lengthAdjust="spacingAndGlyphs" >NCs</text>
<line x1="378.8" y1="186.1" x2="378.8" y2="312.9" stroke="#3a3a3a" stroke-width="1.6"/>
<line x1="378.2" y1="312.5" x2="568.3" y2="312.5" stroke="#3a3a3a" stroke-width="1.6"/>
<line x1="375.6" y1="218.8" x2="378.8" y2="218.8" stroke="#333" stroke-width="0.9"/>
<line x1="375.6" y1="265.6" x2="378.8" y2="265.6" stroke="#333" stroke-width="0.9"/>
<line x1="375.6" y1="312.5" x2="378.8" y2="312.5" stroke="#333" stroke-width="0.9"/>
<line x1="451.4" y1="312.5" x2="451.4" y2="314.3" stroke="#333" stroke-width="0.9"/>
<line x1="524.3" y1="312.5" x2="524.3" y2="314.3" stroke="#333" stroke-width="0.9"/>
<polyline points="399.1,199.6 420.0,200.2 450.0,200.9 472.0,201.3 476.0,201.5 477.5,203.5 478.6,205.8 479.2,206.0 480.0,204.5 481.5,201.9 490.0,201.8 500.0,201.9 530.0,202.2 560.7,202.7" fill="none" stroke="#4a4ec0" stroke-width="1.1" stroke-linejoin="round" />
<polyline points="398.4,218.4 420.0,218.9 450.0,219.2 469.0,219.4 471.6,220.1 475.0,219.6 500.0,219.5 530.0,219.8 568.3,220.2" fill="none" stroke="#5cc45c" stroke-width="1.1" stroke-linejoin="round" />
<polyline points="400.1,232.7 430.0,233.3 470.0,233.8 492.0,234.1 495.0,234.3 497.0,235.3 498.5,238.0 499.5,243.0 500.3,250.0 501.0,257.0 501.8,262.6 502.6,257.0 503.3,250.0 504.2,243.0 505.3,238.0 507.0,235.4 509.5,234.6 520.0,234.6 545.0,234.7 568.3,234.8" fill="none" stroke="#7e3ca8" stroke-width="1.1" stroke-linejoin="round" />
<polyline points="397.1,260.9 430.0,261.1 470.0,261.3 494.0,261.5 497.0,262.0 498.5,263.5 499.3,266.5 500.0,271.0 500.7,279.4 501.4,271.0 502.2,266.5 503.0,263.5 505.0,262.0 508.0,261.8 520.0,261.9 545.0,262.0 568.3,262.0" fill="none" stroke="#f0902c" stroke-width="1.1" stroke-linejoin="round" />
<polyline points="399.6,284.0 420.0,284.7 450.0,285.5 464.0,285.9 466.5,287.2 470.0,287.0 472.0,286.3 490.0,286.4 513.0,286.8 540.0,287.8 568.3,289.2" fill="none" stroke="#3c3c3c" stroke-width="1.1" stroke-linejoin="round" />
<polyline points="404.7,298.4 440.0,298.9 470.0,299.2 488.0,299.4 490.4,299.8 492.8,301.0 495.2,302.8 497.5,302.2 499.9,304.0 500.9,306.0 501.7,308.1 502.5,311.7 503.2,309.5 504.0,307.0 505.8,302.8 508.1,301.0 512.0,300.5 520.0,300.6 545.0,300.9 568.3,301.2" fill="none" stroke="#d84848" stroke-width="1.1" stroke-linejoin="round" />
<text x="361.6" y="192.6" font-family="Liberation Sans, sans-serif" font-size="13.8" font-weight="bold" fill="#000" text-anchor="start" textLength="11.6" lengthAdjust="spacingAndGlyphs" >C</text>
<text x="362.7" y="220.5" font-family="Liberation Sans, sans-serif" font-size="5.6" font-weight="bold" fill="#222" text-anchor="start" textLength="12.6" lengthAdjust="spacingAndGlyphs" >100</text>
<text x="366.7" y="267.6" font-family="Liberation Sans, sans-serif" font-size="5.6" font-weight="bold" fill="#222" text-anchor="start" textLength="8.5" lengthAdjust="spacingAndGlyphs" >50</text>
<text x="371.8" y="314.3" font-family="Liberation Sans, sans-serif" font-size="5.6" font-weight="bold" fill="#222" text-anchor="start" textLength="3.5" lengthAdjust="spacingAndGlyphs" >0</text>
<text x="376.9" y="320.4" font-family="Liberation Sans, sans-serif" font-size="5.6" font-weight="bold" fill="#222" text-anchor="start" textLength="4.0" lengthAdjust="spacingAndGlyphs" >0</text>
<text x="446.2" y="320.4" font-family="Liberation Sans, sans-serif" font-size="5.6" font-weight="bold" fill="#222" text-anchor="start" textLength="11.4" lengthAdjust="spacingAndGlyphs" >100</text>
<text x="518.4" y="320.4" font-family="Liberation Sans, sans-serif" font-size="5.6" font-weight="bold" fill="#222" text-anchor="start" textLength="11.9" lengthAdjust="spacingAndGlyphs" >200</text>
<text x="444" y="327.8" font-family="Liberation Serif, serif" font-size="6.2" font-weight="bold" fill="#222" text-anchor="start" textLength="59.5" lengthAdjust="spacingAndGlyphs" >Temperature °C</text>
<text x="474.3" y="199" font-family="Liberation Sans, sans-serif" font-size="5.8" font-weight="normal" fill="#333" text-anchor="start" textLength="21.3" lengthAdjust="spacingAndGlyphs" >137°C</text>
<text x="493.2" y="232.4" font-family="Liberation Sans, sans-serif" font-size="5.8" font-weight="normal" fill="#333" text-anchor="start" textLength="28.2" lengthAdjust="spacingAndGlyphs" >168.2°C</text>
<text x="474.1" y="286" font-family="Liberation Sans, sans-serif" font-size="5.8" font-weight="normal" fill="#333" text-anchor="start" textLength="21.3" lengthAdjust="spacingAndGlyphs" >134°C</text>
<text x="480.6" y="297.8" font-family="Liberation Sans, sans-serif" font-size="5.8" font-weight="normal" fill="#333" text-anchor="start" textLength="20.8" lengthAdjust="spacingAndGlyphs" >153°C</text>
<line x1="577.5" y1="207.6" x2="589.7" y2="207.6" stroke="#5a5ec4" stroke-width="1.6"/>
<line x1="579.5" y1="223.8" x2="592" y2="223.8" stroke="#6cc86c" stroke-width="1.6"/>
<line x1="580.2" y1="238.4" x2="592.4" y2="238.4" stroke="#8a58b0" stroke-width="1.6"/>
<line x1="580.9" y1="260.5" x2="593.1" y2="260.5" stroke="#e8a060" stroke-width="1.6"/>
<line x1="579.5" y1="287.3" x2="592" y2="287.3" stroke="#555" stroke-width="1.6"/>
<line x1="581.9" y1="297.8" x2="594.4" y2="297.8" stroke="#dc6060" stroke-width="1.6"/>
<text x="597.4" y="210.2" font-family="Liberation Sans, sans-serif" font-size="8" font-weight="normal" fill="#222" text-anchor="start" textLength="16.4" lengthAdjust="spacingAndGlyphs" >ETX</text>
<text x="600.2" y="226.1" font-family="Liberation Sans, sans-serif" font-size="8" font-weight="normal" fill="#222" text-anchor="start" textLength="31.2" lengthAdjust="spacingAndGlyphs" >Lecithin</text>
<text x="600.8" y="241.4" font-family="Liberation Sans, sans-serif" font-size="8" font-weight="normal" fill="#222" text-anchor="start" textLength="32.7" lengthAdjust="spacingAndGlyphs" >Mannitol</text>
<text x="600.8" y="263.8" font-family="Liberation Sans, sans-serif" font-size="8" font-weight="normal" fill="#222" text-anchor="start" textLength="70" lengthAdjust="spacingAndGlyphs" >PM with mannitol</text>
<text x="600.2" y="290.6" font-family="Liberation Sans, sans-serif" font-size="8" font-weight="normal" fill="#222" text-anchor="start" textLength="81.5" lengthAdjust="spacingAndGlyphs" >PM without mannitol</text>
<text x="601.5" y="301.1" font-family="Liberation Sans, sans-serif" font-size="8" font-weight="normal" fill="#222" text-anchor="start" textLength="17.4" lengthAdjust="spacingAndGlyphs" >NCs</text>
</svg>
</body></html>
